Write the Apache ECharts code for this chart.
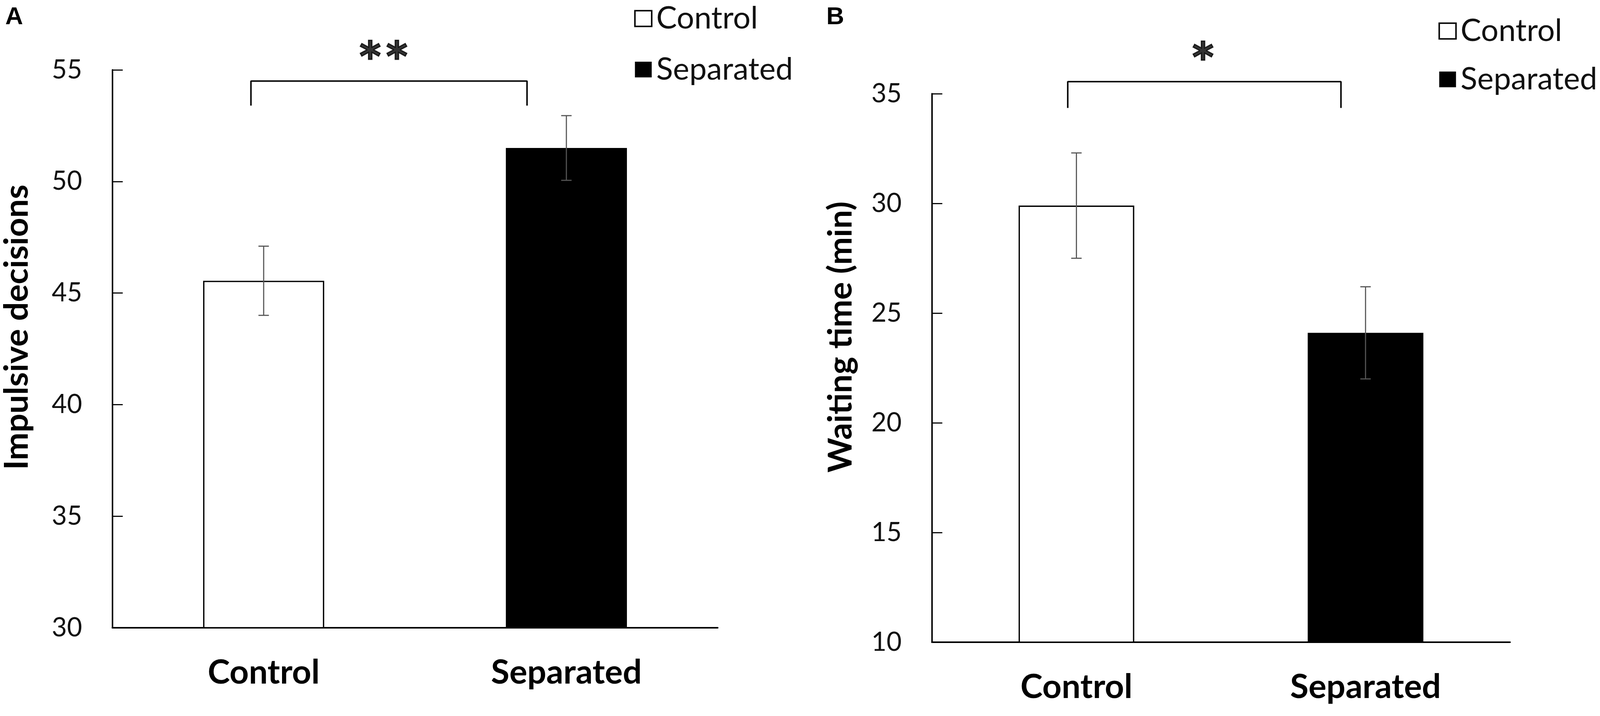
<!DOCTYPE html>
<html>
<head>
<meta charset="utf-8">
<script src="https://cdn.jsdelivr.net/npm/echarts@6/dist/echarts.min.js"></script>
<style>
html,body{margin:0;padding:0;background:#fff;overflow:hidden;}
#chart{width:100vw;height:100vh;}
</style>
</head>
<body>
<div id="chart"></div>
<script>
// ---- data ----
const categories = ['Control', 'Separated'];
const impulsiveMean = [45.55, 51.5];
const impulsiveErr = [1.55, 1.45];
const waitingMean = [29.9, 24.1];
const waitingErr = [2.4, 2.1];
const impulsiveTicks = [30, 55, 5];   // min, max, interval
const waitingTicks = [10, 35, 5];
// significance brackets in (band position 0..2, value) units
const bracketA = [[0.458, 53.4], [0.458, 54.5], [1.37, 54.5], [1.37, 53.4]];
const bracketB = [[0.470, 34.35], [0.470, 35.55], [1.415, 35.55], [1.415, 34.35]];
const sigA = [[0.852, 55.45], [0.940, 55.45]];   // one '*' per point
const sigB = [[0.938, 36.5]];

// ---- layout scaling (reference is 4289 x 1834) ----
const el = document.getElementById('chart');
const sx = el.clientWidth / 4289, sy = el.clientHeight / 1834;
const ss = Math.min(sx, sy);
const X = v => v * sx, Y = v => v * sy, S = v => v * ss;

const chart = echarts.init(el, null, {renderer: 'canvas'});
const FONT = 'Lato';
const INK = '#000';

function errData(mean, err) {
  return mean.map((m, i) => [i, m - err[i], m + err[i]]);
}
function errRender(params, api) {
  const x = api.value(0);
  const lo = api.coord([x, api.value(1)]);
  const hi = api.coord([x, api.value(2)]);
  const cap = S(14);
  const st = {stroke: '#555', lineWidth: S(3)};
  return {type: 'group', children: [
    {type: 'line', shape: {x1: hi[0], y1: hi[1], x2: lo[0], y2: lo[1]}, style: st},
    {type: 'line', shape: {x1: hi[0] - cap, y1: hi[1], x2: hi[0] + cap, y2: hi[1]}, style: st},
    {type: 'line', shape: {x1: lo[0] - cap, y1: lo[1], x2: lo[0] + cap, y2: lo[1]}, style: st}
  ]};
}
function catAxis(grid) {
  return {
    type: 'category', gridIndex: grid, data: categories,
    axisLine: {lineStyle: {color: '#000', width: S(4)}},
    axisTick: {inside: true, length: S(33), interval: 0, lineStyle: {color: '#000', width: S(3)}},
    axisLabel: {fontFamily: FONT, fontSize: S(90), fontWeight: 'bold', color: INK, margin: S(76)},
    splitLine: {show: false}
  };
}
function posAxis(grid) {
  return {type: 'value', gridIndex: grid, min: 0, max: 2, show: false};
}
function valAxis(grid, ticks, name, gap, lift) {
  return {
    type: 'value', gridIndex: grid, min: ticks[0], max: ticks[1], interval: ticks[2],
    name: name, nameLocation: 'middle', nameGap: S(gap),
    nameTextStyle: {fontFamily: FONT, fontSize: S(89), fontWeight: 'bold', color: INK,
                    padding: [0, 0, 0, S(2 * lift)]},
    axisLine: {show: true, lineStyle: {color: '#000', width: S(4)}},
    axisTick: {show: true, inside: true, length: S(28), lineStyle: {color: '#000', width: S(3)}},
    axisLabel: {fontFamily: FONT, fontSize: S(70), color: '#111', margin: S(81)},
    splitLine: {show: false}
  };
}
function barSeries(grid, mean) {
  return [
    {name: 'Control', type: 'bar', xAxisIndex: grid * 2, yAxisIndex: grid,
     data: [mean[0], '-'], barWidth: '40%', barGap: '-100%',
     itemStyle: {color: '#fff', borderColor: '#000', borderWidth: S(3.5)}},
    {name: 'Separated', type: 'bar', xAxisIndex: grid * 2, yAxisIndex: grid,
     data: ['-', mean[1]], barWidth: '40%', barGap: '-100%',
     itemStyle: {color: '#000', borderColor: '#000', borderWidth: 0}}
  ];
}
function extraSeries(grid, mean, err, bracket, sig) {
  return [
    {type: 'custom', xAxisIndex: grid * 2, yAxisIndex: grid, z: 5,
     renderItem: errRender, data: errData(mean, err), encode: {x: 0, y: [1, 2]}},
    {type: 'line', xAxisIndex: grid * 2 + 1, yAxisIndex: grid, data: bracket,
     symbol: 'none', clip: false, lineStyle: {color: '#000', width: S(4)}, z: 5},
    {type: 'scatter', xAxisIndex: grid * 2 + 1, yAxisIndex: grid, data: sig,
     symbolSize: 0, clip: false, z: 6,
     label: {show: true, position: 'inside', formatter: '*',
             fontFamily: 'DejaVu Sans', fontWeight: 'bold', fontSize: S(110),
             color: '#000', textBorderColor: '#000', textBorderWidth: S(3)}}
  ];
}
function legend(left, top, gap) {
  return {
    left: X(left), top: Y(top), orient: 'vertical', padding: 0,
    itemWidth: S(45), itemHeight: S(42), itemGap: S(gap), icon: 'rect',
    selectedMode: false,
    textStyle: {fontFamily: FONT, fontSize: S(83), color: '#111', padding: [0, 0, 0, S(7)]},
    data: [
      {name: 'Control', itemStyle: {color: '#fff', borderColor: '#000', borderWidth: S(4)}},
      {name: 'Separated', itemStyle: {color: '#000', borderWidth: 0}}
    ]
  };
}

chart.setOption({
  animation: false,
  backgroundColor: '#fff',
  title: [
    {text: 'A', left: X(9), top: Y(8), textStyle: {fontFamily: 'Liberation Sans', fontWeight: 'bold', fontSize: S(66), color: '#000'}},
    {text: 'B', left: X(2210), top: Y(8), textStyle: {fontFamily: 'Liberation Sans', fontWeight: 'bold', fontSize: S(66), color: '#000'}}
  ],
  legend: [legend(1700, 8, 54), legend(3856, 40, 47)],
  grid: [
    {left: X(301), top: Y(179), width: X(1623), height: Y(1429)},
    {left: X(2498), top: Y(240), width: X(1550), height: Y(1405)}
  ],
  xAxis: [catAxis(0), posAxis(0), catAxis(1), posAxis(1)],
  yAxis: [
    valAxis(0, impulsiveTicks, 'Impulsive decisions', 211, 58),
    valAxis(1, waitingTicks, 'Waiting time (min)', 200, 83)
  ],
  series: [
    ...barSeries(0, impulsiveMean),
    ...extraSeries(0, impulsiveMean, impulsiveErr, bracketA, sigA),
    ...barSeries(1, waitingMean),
    ...extraSeries(1, waitingMean, waitingErr, bracketB, sigB)
  ]
});
</script>
</body>
</html>
